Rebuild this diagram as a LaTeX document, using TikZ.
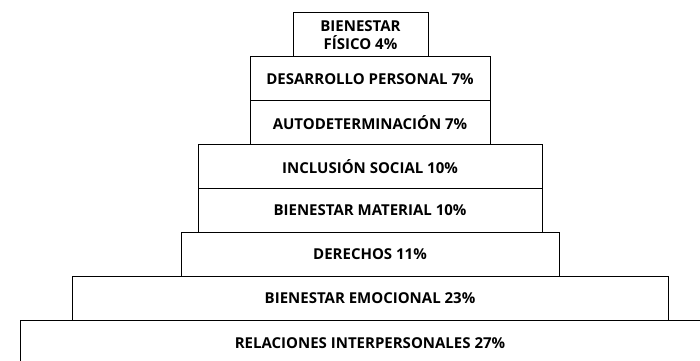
\documentclass[tikz,border=0pt]{standalone}
\usepackage{fontspec}
\setmainfont{Open Sans}
\usetikzlibrary{positioning}
\tikzset{
  nivel/.style   = {shape=rectangle, draw, line width=1pt, outer sep=0pt,
                    align=center, inner sep=0pt, minimum height=43.86pt,
                    font=\fontsize{15}{18}\selectfont\bfseries},
  cima/.style    = {nivel, minimum width=135pt},
  medio/.style   = {nivel, minimum width=240pt},
  ancho/.style   = {nivel, minimum width=344pt},
  base/.style    = {nivel, minimum width=700pt, minimum height=46pt}
}

\begin{document}
\begin{tikzpicture}
  [
    node distance = 0pt
  ]
  \useasboundingbox (0pt,0pt) rectangle (700pt,-360pt);
  \node [cima] (fisico) at (360.5pt,-34.9pt) {BIENESTAR\\FÍSICO 4\%};
  \node [medio] (desarrollo) [below=of fisico, xshift=9.5pt] {DESARROLLO PERSONAL 7\%};
  \node [medio] (auto) [below=of desarrollo] {AUTODETERMINACIÓN 7\%};
  \node [ancho] (inclusion) [below=of auto] {INCLUSIÓN SOCIAL 10\%};
  \node [ancho] (material) [below=of inclusion] {BIENESTAR MATERIAL 10\%};
  \node [nivel, minimum width=378pt] (derechos) [below=of material] {DERECHOS 11\%};
  \node [nivel, minimum width=596pt] (emocional) [below=of derechos] {BIENESTAR EMOCIONAL 23\%};
  \node [base] (relaciones) [below=of emocional] {RELACIONES INTERPERSONALES 27\%};
\end{tikzpicture}
\end{document}
